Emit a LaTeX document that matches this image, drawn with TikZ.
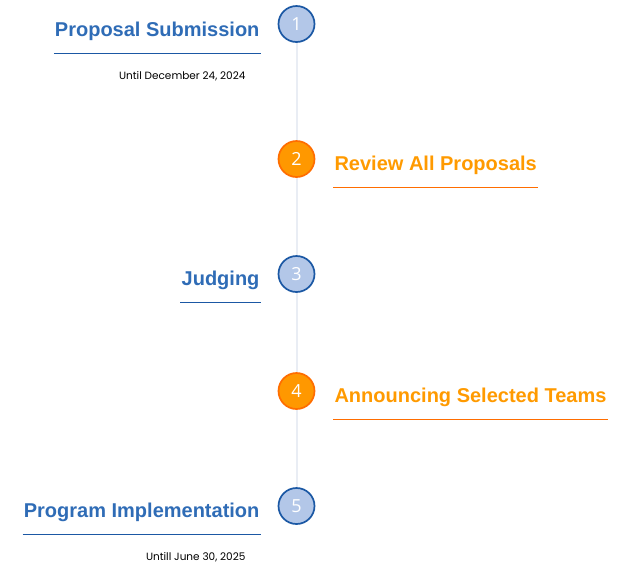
\documentclass[tikz,border=0pt]{standalone}
\usepackage{fontspec}
\setmainfont{Liberation Sans}
\newfontfamily\datefont{Poppins}
\newfontfamily\numfont{Open Sans}
\usetikzlibrary{positioning}

\definecolor{titleblue}{HTML}{2F6CB6}
\definecolor{lineblue}{HTML}{1B58A4}
\definecolor{dotfill}{HTML}{B3C7E8}
\definecolor{titleorange}{HTML}{FF9A00}
\definecolor{lineorange}{HTML}{FF6D00}
\definecolor{dotorange}{HTML}{FF9800}
\definecolor{railgray}{HTML}{E9EDF4}

\begin{document}
\begin{tikzpicture}[x=1pt, y=-1pt,
        dot/.style={circle, minimum size=36pt, inner sep=0pt, line width=1.7pt,
            text=white, font=\numfont\fontsize{18}{18}\selectfont},
        bluedot/.style={dot, draw=lineblue, fill=dotfill},
        orangedot/.style={dot, draw=lineorange, fill=dotorange},
        title/.style={inner sep=0pt, font=\bfseries\fontsize{20}{24}\selectfont},
        bluetitle/.style={title, text=titleblue},
        orangetitle/.style={title, text=titleorange},
        date/.style={inner sep=0pt, font=\datefont\fontsize{10.5}{12}\selectfont},
        rail/.style={draw=railgray, line width=2pt}]
    \useasboundingbox (0,0) rectangle (625,566);
    % steps on the rail
    \node[bluedot] (c1) at (296.5,24) {1};
    \node[orangedot] (c2) at (296.5,159) {2};
    \node[bluedot] (c3) at (296.5,274) {3};
    \node[orangedot] (c4) at (296.5,391) {4};
    \node[bluedot] (c5) at (296.5,506) {5};
    \foreach \a/\b in {1/2,2/3,3/4,4/5}
        \draw[rail] (c\a) -- (c\b);
    % titles
    \node[bluetitle, left=18pt of c1, anchor=base east, yshift=-12pt] (t1) {Proposal Submission};
    \node[orangetitle, right=19pt of c2, anchor=base west, yshift=-11pt] (t2) {Review All Proposals};
    \node[bluetitle, left=18pt of c3, anchor=base east, yshift=-11pt] (t3) {Judging};
    \node[orangetitle, right=19pt of c4, anchor=base west, yshift=-11pt] (t4) {Announcing Selected Teams};
    \node[bluetitle, left=18pt of c5, anchor=base east, yshift=-11pt] (t5) {Program Implementation};
    % underlines
    \foreach \t in {t1,t3,t5}
        \draw[lineblue, line width=1.4pt] ([xshift=-1pt,yshift=-17.5pt]\t.base west) -- ([xshift=1pt,yshift=-17.5pt]\t.base east);
    \foreach \t in {t2,t4}
        \draw[lineorange, line width=1.4pt] ([xshift=-1pt,yshift=-17.5pt]\t.base west) -- ([xshift=1pt,yshift=-17.5pt]\t.base east);
    % dates
    \node[date, anchor=base east] (d1) at ([xshift=-14pt,yshift=-43pt]t1.base east) {Until December 24, 2024};
    \node[date, anchor=base east] (d5) at ([xshift=-14pt,yshift=-43pt]t5.base east) {Untill June 30, 2025};
\end{tikzpicture}
\end{document}
